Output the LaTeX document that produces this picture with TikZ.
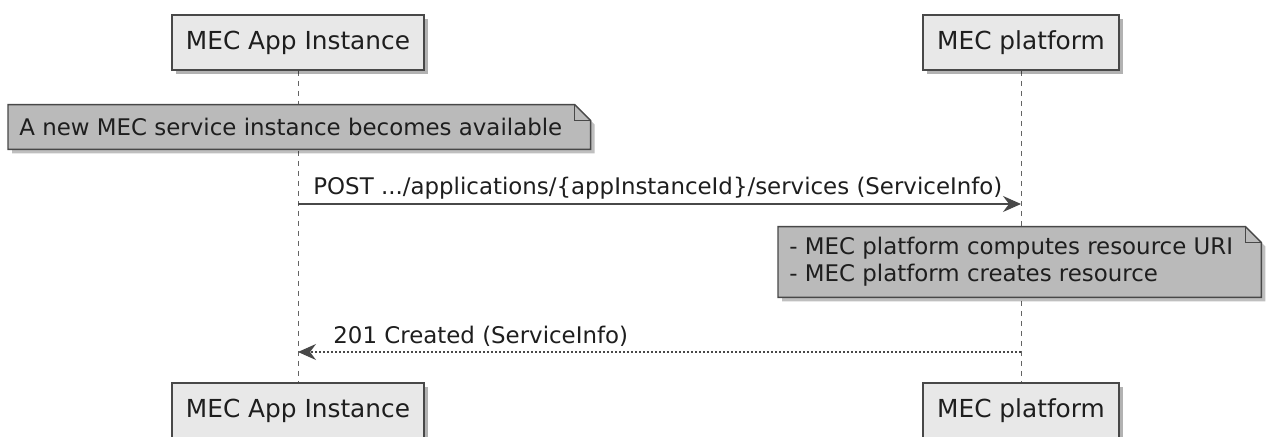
\documentclass[tikz,border=0pt]{standalone}
\usepackage{fontspec}
\setmainfont{DejaVu Sans}
\usetikzlibrary{arrows.meta,shadows,backgrounds,calc}

\definecolor{boxfill}{RGB}{232,232,232}
\definecolor{notefill}{RGB}{186,186,186}
\definecolor{linegray}{RGB}{72,72,72}
\definecolor{textgray}{RGB}{30,30,30}

\tikzset{
  actor/.style={draw=linegray, line width=0.8pt, fill=boxfill, text=textgray,
    minimum height=27.5pt, inner xsep=7pt, inner ysep=0pt,
    font=\fontsize{12.4}{14}\selectfont,
    drop shadow={shadow xshift=2pt, shadow yshift=-2pt, fill=black, opacity=0.3}},
  notetext/.style={anchor=west, inner xsep=5.5pt, inner ysep=0pt, align=left,
    text=textgray, font=\fontsize{11.45}{13.6}\selectfont},
  noteframe/.style={draw=linegray, line width=0.7pt, fill=notefill},
  noteshadow/.style={fill=black, opacity=0.25, transform canvas={xshift=2pt, yshift=-2pt}},
  lifeline/.style={draw=linegray!85, line width=0.5pt, dash pattern=on 2.5pt off 2.5pt},
  msg/.style={draw=linegray, line width=0.6pt, -{Stealth[length=9pt,width=8pt,inset=3pt]}},
  reply/.style={msg, dash pattern=on 1pt off 1pt},
  msglabel/.style={anchor=base west, inner sep=0pt, text=textgray,
    font=\fontsize{11.45}{13.6}\selectfont},
}

\begin{document}
\begin{tikzpicture}[x=0.5pt, y=-0.5pt]
	\useasboundingbox (0,0) rectangle (1268,437);

	% participants
	\node[actor] (appTop) at (298,42.5) {MEC App Instance};
	\node[actor] (platTop) at (1021,42.5) {MEC platform};
	\node[actor] (appBot) at (298,410.5) {MEC App Instance};
	\node[actor] (platBot) at (1021,410.5) {MEC platform};

	% notes
	\node[notetext, minimum height=22pt] (note1) at (8,127) {A new MEC service instance becomes available};
	\node[notetext, minimum height=35pt] (note2) at (778,262)
		{- MEC platform computes resource URI\\- MEC platform creates resource};

	\begin{scope}[on background layer]
		\draw[lifeline] (appTop) -- (appBot);
		\draw[lifeline] (platTop) -- (platBot);
		\foreach \n in {note1,note2} {
			\coordinate (\n-ne) at ($(\n.north east)+(17,0)$);
			\coordinate (\n-se) at ($(\n.south east)+(17,0)$);
			\fill[noteshadow] (\n.north west) -- ($(\n-ne)-(16,0)$) -- ($(\n-ne)+(0,16)$)
				-- (\n-se) -- (\n.south west) -- cycle;
			\draw[noteframe] (\n.north west) -- ($(\n-ne)-(16,0)$) -- ($(\n-ne)+(0,16)$)
				-- (\n-se) -- (\n.south west) -- cycle;
			\draw[noteframe, fill=none] ($(\n-ne)-(16,0)$) -- ($(\n-ne)+(-16,16)$) -- ($(\n-ne)+(0,16)$);
		}
	\end{scope}

	% messages
	\coordinate (post-a) at (appTop |- 0,204);
	\coordinate (post-b) at (platTop |- 0,204);
	\draw[msg] (post-a) -- (post-b);
	\node[msglabel] (postlbl) at (313,195) {POST .../applications/\{appInstanceId\}/services (ServiceInfo)};

	\coordinate (resp-a) at (platTop |- 0,352);
	\coordinate (resp-b) at (appTop |- 0,352);
	\draw[reply] (resp-a) -- (resp-b);
	\node[msglabel] (resplbl) at (333,344) {201 Created (ServiceInfo)};
\end{tikzpicture}
\end{document}
